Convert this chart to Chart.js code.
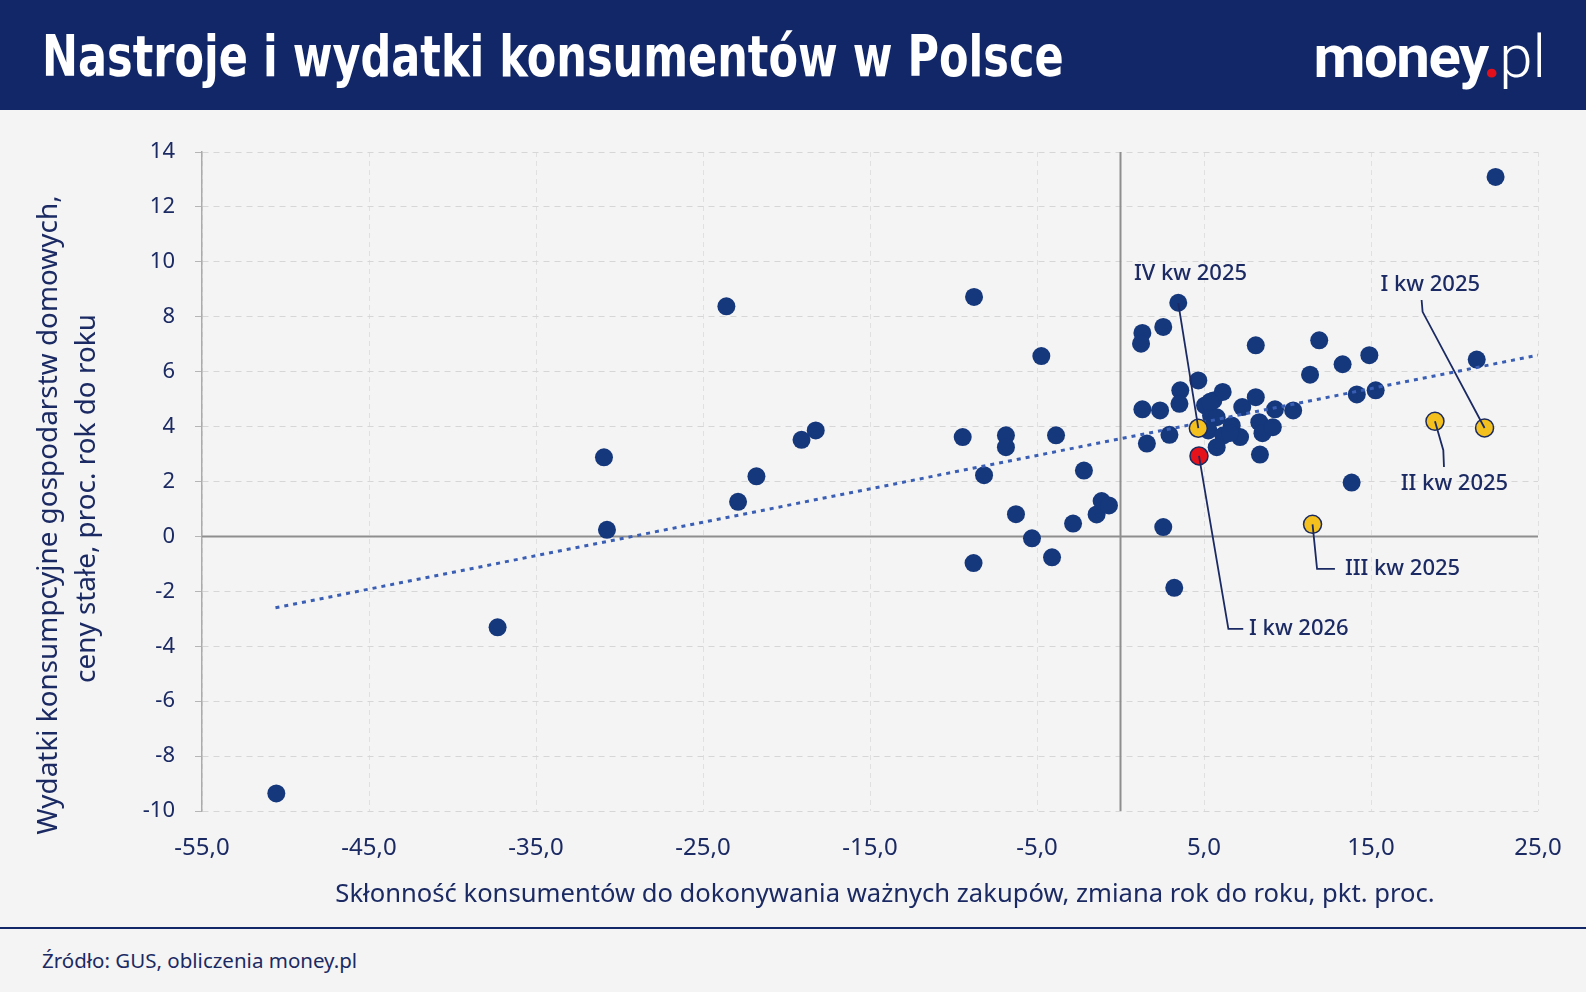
<!DOCTYPE html>
<html lang="pl">
<head>
<meta charset="utf-8">
<title>Nastroje i wydatki konsumentów w Polsce</title>
<script src="https://cdn.jsdelivr.net/npm/chart.js@4.4.1/dist/chart.umd.min.js"></script>
<style>
    html, body { margin: 0; padding: 0; }
    body {
        width: 1586px; height: 992px; overflow: hidden; position: relative;
        background: #f4f4f4; font-family: 'Noto Sans', sans-serif;
    }
    .header { position: absolute; left: 0; top: 0; width: 1586px; height: 110px; background: #112768; }
    .header h1 {
        position: absolute; left: 42px; top: 1px; margin: 0; white-space: nowrap;
        line-height: 110px; color: #fff; font-size: 57px; font-weight: bold;
        font-family: 'DejaVu Sans', sans-serif;
        transform: scaleX(0.755); transform-origin: left center;
    }
    .logo {
        position: absolute; right: 40px; top: 2px; line-height: 110px;
        color: #fff; font-family: Roboto, sans-serif; font-size: 60px; font-weight: bold; letter-spacing: -1.5px;
    }
    .logo .dot { color: #e3101c; }
    .logo .pl { font-weight: 300; letter-spacing: 0; }
    .chart-box { position: absolute; left: 0; top: 110px; width: 1586px; height: 818px; }
    .footer-line { position: absolute; left: 0; top: 927px; width: 1586px; height: 2px; background: #112768; }
    .source { position: absolute; left: 42px; top: 946px; font-size: 20.5px; color: #1b2a63; }
</style>
</head>
<body>
<div class="header">
    <h1>Nastroje i wydatki konsumentów w Polsce</h1>
    <div class="logo">money<span class="dot">.</span><span class="pl">pl</span></div>
</div>
<div class="chart-box"><canvas id="chart" width="1586" height="818"></canvas></div>
<div class="footer-line"></div>
<div class="source">Źródło: GUS, obliczenia money.pl</div>

<script>
// kwartały historyczne: skłonność do zakupów (x) i wydatki konsumpcyjne (y)
const quarterX = [
    -50.55, -37.3, -30.93, -30.75, -23.6, -22.9, -21.8, -19.1, -18.25, -8.77,
    -9.45, -8.17, -8.8, -6.86, -6.86, -6.26, -5.3, -4.74, -3.86, -4.1,
    -2.84, -2.19, -1.43, -1.13, -0.69,
    1.31, 1.23, 2.56, 3.46, 1.31, 2.37, 1.58, 2.93, 2.56, 3.22,
    3.58, 3.53, 4.66, 5.06, 5.56, 6.12, 5.42, 5.76, 5.26, 6.16,
    5.76, 6.66, 7.29, 7.16, 8.1, 8.1, 8.31, 8.5, 9.12, 8.35,
    9.25, 10.34, 11.35, 11.9, 13.3, 14.9, 14.15, 15.28, 13.84, 21.33,
    22.46, 6.56, 5.36
];
const quarterY = [
    -9.36, -3.31, 2.88, 0.24, 8.38, 1.26, 2.19, 3.52, 3.86, 8.72,
    3.62, 2.23, -0.97, 3.68, 3.25, 0.81, -0.07, 6.57, 3.68, -0.76,
    0.47, 2.4, 0.8, 1.29, 1.13,
    7.41, 7.02, 7.63, 8.51, 4.63, 4.59, 3.38, 3.7, 0.34, -1.87,
    5.32, 4.83, 5.68, 4.77, 4.95, 5.26, 4.4, 4.34, 3.86, 3.68,
    3.25, 4.04, 4.71, 3.62, 6.96, 5.07, 4.16, 3.76, 3.98, 2.98,
    4.63, 4.59, 5.89, 7.14, 6.27, 6.6, 5.17, 5.32, 1.96, 6.44,
    13.09, 3.77, 4.9
];

// wyróżnione kwartały 2025 i 2026
const recentLabels = ['I kw 2025', 'II kw 2025', 'III kw 2025', 'IV kw 2025'];
const recentX = [21.8, 18.83, 11.5, 4.66];
const recentY = [3.95, 4.19, 0.44, 3.94];
const latestLabels = ['I kw 2026'];
const latestX = [4.7];
const latestY = [2.93];

// linia trendu
const trendX = [-50.6, 25];
const trendY = [-2.6, 6.6];

const xTickValues = [-55, -45, -35, -25, -15, -5, 5, 15, 25];
const yTickValues = [-10, -8, -6, -4, -2, 0, 2, 4, 6, 8, 10, 12, 14];

const xTitle = 'Skłonność konsumentów do dokonywania ważnych zakupów, zmiana rok do roku, pkt. proc.';
const yTitle = ['Wydatki konsumpcyjne gospodarstw domowych,', 'ceny stałe, proc. rok do roku'];

const NAVY = '#1b2a63';

function toPoints(xs, ys) {
    return xs.map((x, i) => ({ x: x, y: ys[i] }));
}

// opisy wyróżnionych punktów: ścieżka linii odniesienia i miejsce tekstu (w jednostkach osi)
const callouts = [
    { label: recentLabels[0], point: [recentX[0], recentY[0]], path: [[18.09, 8.18], [18.03, 8.61]], text: [18.55, 9.16], align: 'center' },
    { label: recentLabels[1], point: [recentX[1], recentY[1]], path: [[19.33, 3.14], [19.37, 2.53]], text: [20.0, 1.92], align: 'center' },
    { label: recentLabels[2], point: [recentX[2], recentY[2]], path: [[11.77, -1.18], [12.84, -1.18]], text: [13.44, -1.18], align: 'left' },
    { label: recentLabels[3], point: [recentX[3], recentY[3]], path: [[3.46, 8.5]], text: [4.19, 9.56], align: 'center' },
    { label: latestLabels[0], point: [latestX[0], latestY[0]], path: [[6.46, -3.37], [7.35, -3.37]], text: [7.7, -3.37], align: 'left' }
];

const decorPlugin = {
    id: 'decor',
    beforeDatasetsDraw(chart) {
        const { ctx, chartArea, scales: { x, y } } = chart;
        ctx.save();
        ctx.strokeStyle = '#8e8e8e';
        ctx.lineWidth = 2;
        ctx.beginPath();
        ctx.moveTo(chartArea.left, y.getPixelForValue(0));
        ctx.lineTo(chartArea.right, y.getPixelForValue(0));
        ctx.moveTo(x.getPixelForValue(0), chartArea.top);
        ctx.lineTo(x.getPixelForValue(0), chartArea.bottom);
        ctx.stroke();
        ctx.restore();
    },
    afterDatasetsDraw(chart) {
        const { ctx, scales: { x, y } } = chart;
        ctx.save();
        ctx.strokeStyle = NAVY;
        ctx.lineWidth = 1.8;
        ctx.fillStyle = NAVY;
        ctx.font = '500 22px "Noto Sans"';
        ctx.textBaseline = 'middle';
        callouts.forEach(c => {
            ctx.beginPath();
            ctx.moveTo(x.getPixelForValue(c.point[0]), y.getPixelForValue(c.point[1]));
            c.path.forEach(p => ctx.lineTo(x.getPixelForValue(p[0]), y.getPixelForValue(p[1])));
            ctx.stroke();
            ctx.textAlign = c.align;
            ctx.fillText(c.label, x.getPixelForValue(c.text[0]), y.getPixelForValue(c.text[1]));
        });
        ctx.restore();
    },
    afterDraw(chart) {
        const { ctx } = chart;
        ctx.save();
        ctx.fillStyle = NAVY;
        ctx.textAlign = 'center';
        ctx.textBaseline = 'middle';
        ctx.font = '25.6px "Noto Sans"';
        ctx.fillText(xTitle, 885, 785);
        ctx.font = '27.9px "Noto Sans"';
        ctx.translate(49, 405);
        ctx.rotate(-Math.PI / 2);
        ctx.fillText(yTitle[0], 0, 0);
        ctx.fillText(yTitle[1], 16.5, 38);
        ctx.restore();
    }
};

new Chart(document.getElementById('chart'), {
    type: 'scatter',
    data: {
        datasets: [
            {
                type: 'line',
                label: 'Trend',
                data: toPoints(trendX, trendY),
                borderColor: '#3a5eb4',
                borderWidth: 3,
                borderDash: [4, 5],
                pointRadius: 0,
                fill: false,
                order: 2
            },
            {
                label: 'Kwartały',
                data: toPoints(quarterX, quarterY),
                backgroundColor: '#15377c',
                borderWidth: 0,
                pointRadius: 9,
                order: 3
            },
            {
                label: '2025',
                data: toPoints(recentX, recentY),
                backgroundColor: '#f4c01e',
                borderColor: '#1b2a5e',
                borderWidth: 1.5,
                pointRadius: 9,
                order: 1
            },
            {
                label: '2026',
                data: toPoints(latestX, latestY),
                backgroundColor: '#e5121b',
                borderColor: '#1b2a5e',
                borderWidth: 1.5,
                pointRadius: 9,
                order: 0
            }
        ]
    },
    options: {
        responsive: false,
        animation: false,
        devicePixelRatio: 1,
        layout: { padding: { top: 42, right: 48, bottom: 0, left: 0 } },
        plugins: { legend: { display: false }, tooltip: { enabled: false } },
        scales: {
            x: {
                type: 'linear',
                min: -55,
                max: 25,
                afterBuildTicks: (scale) => { scale.ticks = xTickValues.map(v => ({ value: v })); },
                afterFit: (scale) => { scale.height = 117; },
                ticks: {
                    color: NAVY,
                    font: { family: 'Noto Sans', size: 24 },
                    padding: 23,
                    maxRotation: 0,
                    callback: (value) => value.toFixed(1).replace('.', ',')
                },
                grid: { color: '#e0e0e0', lineWidth: 1, drawTicks: false },
                border: { display: false, dash: [5, 4] }
            },
            y: {
                min: -10,
                max: 14,
                afterBuildTicks: (scale) => { scale.ticks = yTickValues.map(v => ({ value: v })); },
                afterFit: (scale) => { scale.width = 202; },
                ticks: {
                    color: NAVY,
                    font: { family: 'Noto Sans', size: 22 },
                    padding: 20
                },
                grid: { color: '#d6d6d6', lineWidth: 1, tickLength: 7, tickColor: '#b5b5b5' },
                border: { display: true, color: '#ababab', width: 1.5, dash: [6, 5] }
            }
        }
    },
    plugins: [decorPlugin]
});
</script>
</body>
</html>
